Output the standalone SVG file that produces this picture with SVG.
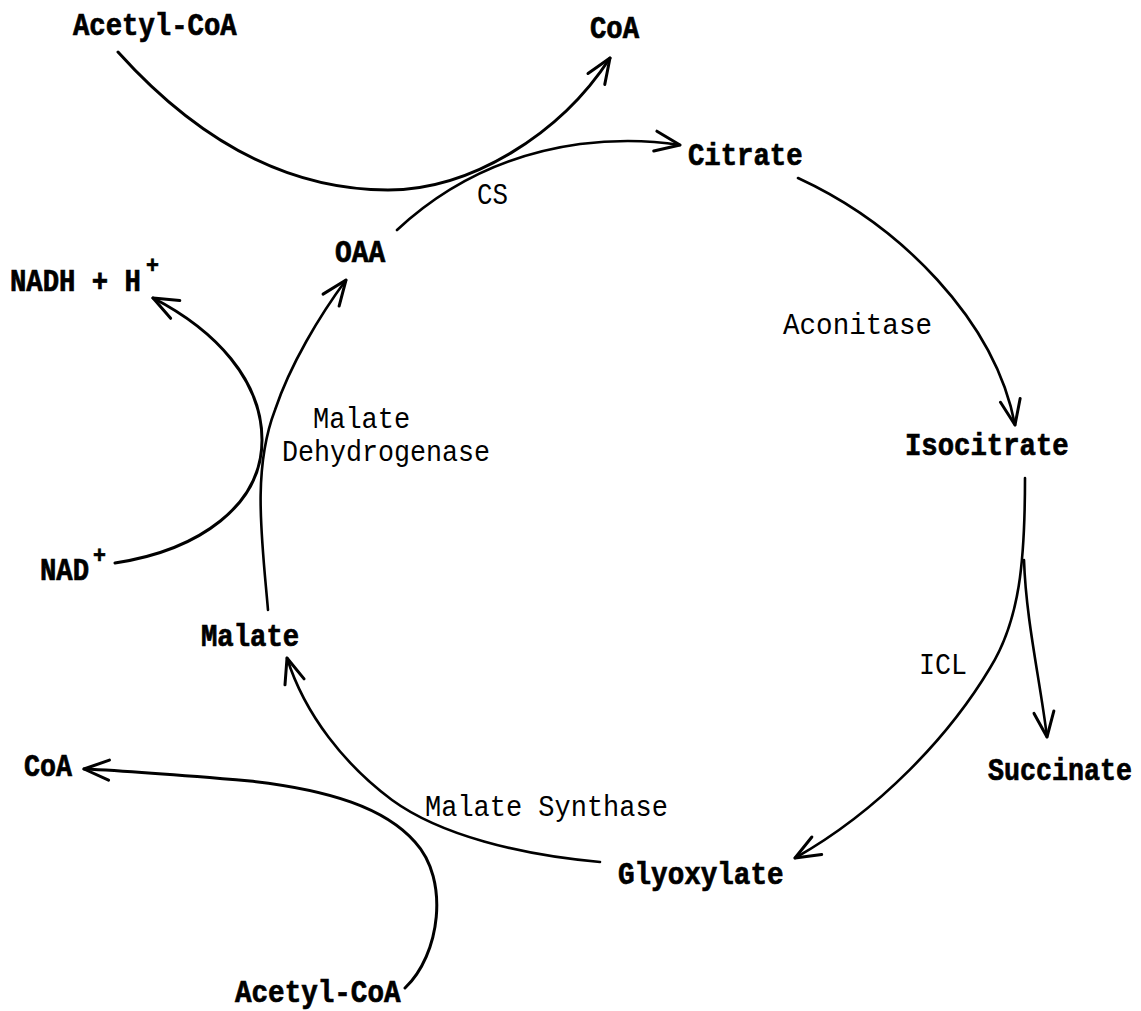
<svg xmlns="http://www.w3.org/2000/svg" width="1141" height="1011" viewBox="0 0 1141 1011">
  <style>
    .met { font-family: "Liberation Mono", "Courier New", monospace; font-weight: bold; font-size: 31px; fill: #000; stroke: #000; stroke-width: 0.7px; }
    .enz { font-family: "Liberation Mono", "Courier New", monospace; font-weight: normal; font-size: 30px; fill: #000; }
    .sup { font-family: "Liberation Mono", "Courier New", monospace; font-weight: bold; font-size: 24px; fill: #000; stroke: #000; stroke-width: 0.7px; }
    .flow { fill: none; stroke: #000; stroke-width: 3; stroke-linecap: round; marker-end: url(#head); }
    .flow.thin { stroke-width: 2.6; }
  </style>
  <defs>
    <marker id="head" markerUnits="userSpaceOnUse" markerWidth="40" markerHeight="40" viewBox="-30 -20 40 40" refX="0" refY="0" orient="auto">
      <path d="M-25,-10 L0,0 L-25,10" fill="none" stroke="#000" stroke-width="3" stroke-linecap="round" stroke-linejoin="round"/>
    </marker>
  </defs>
  <rect width="1141" height="1011" fill="#fff"/>

  <!-- reaction arrows -->
  <g id="connectors">
    <!-- citrate synthase: acetyl-CoA in, CoA out -->
    <path class="flow" d="M118,52 C190,132 280,190 388,190 C470,190 560,135 610,58"/>
    <!-- OAA to citrate -->
    <path class="flow thin" d="M397,230 C440,190 500,155 580,144 C620,139 655,141 680,145"/>
    <!-- aconitase -->
    <path class="flow thin" d="M798,178 C900,225 995,320 1015,425"/>
    <!-- isocitrate lyase to glyoxylate -->
    <path class="flow thin" d="M1025,478 C1025,560 1020,620 990,668 C950,735 880,810 795,858"/>
    <!-- isocitrate lyase to succinate -->
    <path class="flow thin" d="M1024,560 C1026,620 1040,680 1047,737"/>
    <!-- malate synthase: glyoxylate to malate -->
    <path class="flow thin" d="M600,862 C520,855 440,835 392,800 C345,765 305,715 287,658"/>
    <!-- malate synthase: acetyl-CoA in, CoA out -->
    <path class="flow" d="M405,988 C440,955 450,880 415,842 C385,808 330,790 250,781 C180,775 130,771 84,769"/>
    <!-- malate dehydrogenase: malate to OAA -->
    <path class="flow thin" d="M268,610 C262,540 252,470 275,410 C290,365 320,315 346,280"/>
    <!-- malate dehydrogenase: NAD+ to NADH -->
    <path class="flow" d="M115,563 C200,550 262,505 262,440 C262,380 215,330 153,298"/>
  </g>

  <!-- metabolites (typewriter face narrowed to 0.88) -->
  <g id="acetylcoa-top"><text class="met" transform="translate(73,35) scale(0.88,1)">Acetyl-CoA</text></g>
  <g id="coa-top"><text class="met" transform="translate(590,38) scale(0.88,1)">CoA</text></g>
  <g id="citrate"><text class="met" transform="translate(688,165) scale(0.88,1)">Citrate</text></g>
  <g id="oaa"><text class="met" transform="translate(335,262) scale(0.9,1)">OAA</text></g>
  <g id="nadh">
    <text class="met" transform="translate(10,291) scale(0.88,1)">NADH + H</text>
    <text class="sup" transform="translate(146,273) scale(0.9,1)">+</text>
  </g>
  <g id="isocitrate"><text class="met" transform="translate(905,455) scale(0.88,1)">Isocitrate</text></g>
  <g id="nad">
    <text class="met" transform="translate(40,580) scale(0.88,1)">NAD</text>
    <text class="sup" transform="translate(93,563) scale(0.9,1)">+</text>
  </g>
  <g id="malate"><text class="met" transform="translate(201,646) scale(0.88,1)">Malate</text></g>
  <g id="succinate"><text class="met" transform="translate(988,780) scale(0.86,1)">Succinate</text></g>
  <g id="coa-bottom"><text class="met" transform="translate(24,776) scale(0.86,1)">CoA</text></g>
  <g id="glyoxylate"><text class="met" transform="translate(618,884) scale(0.89,1)">Glyoxylate</text></g>
  <g id="acetylcoa-bottom"><text class="met" transform="translate(235,1002) scale(0.89,1)">Acetyl-CoA</text></g>

  <!-- enzymes (thin typewriter face narrowed to 0.9) -->
  <g id="enzyme-cs"><text class="enz" transform="translate(477,204) scale(0.86,1)">CS</text></g>
  <g id="enzyme-aconitase"><text class="enz" transform="translate(783,334) scale(0.92,1)">Aconitase</text></g>
  <g id="enzyme-mdh">
    <text class="enz" transform="translate(313,428) scale(0.9,1)">Malate</text>
    <text class="enz" transform="translate(282,461) scale(0.89,1)">Dehydrogenase</text>
  </g>
  <g id="enzyme-icl"><text class="enz" transform="translate(919,674) scale(0.89,1)">ICL</text></g>
  <g id="enzyme-ms"><text class="enz" transform="translate(425,816) scale(0.9,1)">Malate Synthase</text></g>
</svg>
